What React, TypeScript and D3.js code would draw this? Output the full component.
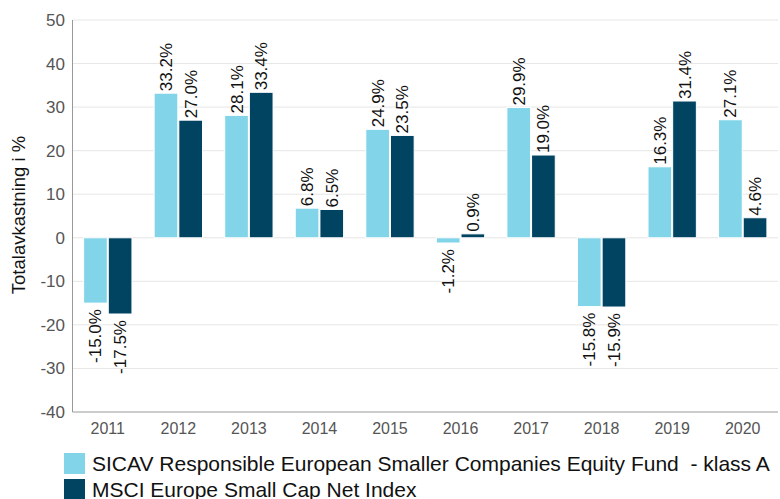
import React from "react";
import * as d3 from "d3";

const categories = ["2011","2012","2013","2014","2015","2016","2017","2018","2019","2020"];
const fundValues = [-15.0, 33.2, 28.1, 6.8, 24.9, -1.2, 29.9, -15.8, 16.3, 27.1];
const indexValues = [-17.5, 27.0, 33.4, 6.5, 23.5, 0.9, 19.0, -15.9, 31.4, 4.6];
const yTicks = [50, 40, 30, 20, 10, 0, -10, -20, -30, -40];
const seriesNames = [
  "SICAV Responsible European Smaller Companies Equity Fund  - klass A",
  "MSCI Europe Small Cap Net Index",
];
const colors = ["#82d5e8", "#004462"];

export default function App() {
  const W = 780, H = 499;
  const left = 72.5, right = 778, top = 20, bottom = 412;
  const x = d3.scaleBand<string>().domain(categories).range([left, right]);
  const inner = d3.scaleBand<number>().domain([0, 1]).range([0, x.bandwidth()]).paddingInner(0.04).paddingOuter(0.45);
  const y = d3.scaleLinear().domain([-40, 50]).range([bottom, top]);
  const series = [fundValues, indexValues];
  const font = "'Liberation Sans', Arial, sans-serif";
  const lblSize = 17;
  return (
    <svg width={W} height={H} style={{ position: "absolute", left: 0, top: 0, fontFamily: font }}>
      {yTicks.map((t) => (
        <g key={t}>
          {t !== -40 && <line x1={left} x2={right} y1={y(t)} y2={y(t)} stroke="#e6e6e6" strokeWidth={1} />}
          <text x={65} y={y(t)} dy="0.35em" textAnchor="end" fontSize={17} fill="#555">{t}</text>
        </g>
      ))}
      <line x1={left} x2={left} y1={top} y2={bottom} stroke="#999" />
      <line x1={left} x2={right} y1={bottom} y2={bottom} stroke="#999" />
      {categories.map((c) => (
        <text key={c} x={x(c)! + x.bandwidth() / 2} y={434} textAnchor="middle" fontSize={16} fill="#555">{c}</text>
      ))}
      {series.map((vals, si) =>
        vals.map((v, i) => {
          const bx = x(categories[i])! + inner(si)!;
          const bw = inner.bandwidth();
          const y0 = y(0), y1 = y(v);
          const cx = bx + bw / 2;
          const ly = v >= 0 ? y1 - 2 : y1 + 6;
          return (
            <g key={si + "-" + i}>
              <rect x={bx} y={Math.min(y0, y1)} width={bw} height={Math.abs(y1 - y0)} fill={colors[si]} stroke="#fff" strokeWidth={1} />
              <text transform={`translate(${cx + 6},${ly}) rotate(-90)`} textAnchor={v >= 0 ? "start" : "end"} fontSize={lblSize} fill="#111">
                {v.toFixed(1) + "%"}
              </text>
            </g>
          );
        })
      )}
      <text transform={`translate(25,215) rotate(-90)`} textAnchor="middle" fontSize={18.5} fill="#111">Totalavkastning i %</text>
      {seriesNames.map((n, i) => (
        <g key={n}>
          <rect x={64} y={453 + i * 26} width={21} height={21} fill={colors[i]} />
          <text x={92} y={463.5 + i * 26} dy="0.35em" fontSize={21} fill="#111" style={{ whiteSpace: "pre" }}>{n}</text>
        </g>
      ))}
    </svg>
  );
}
